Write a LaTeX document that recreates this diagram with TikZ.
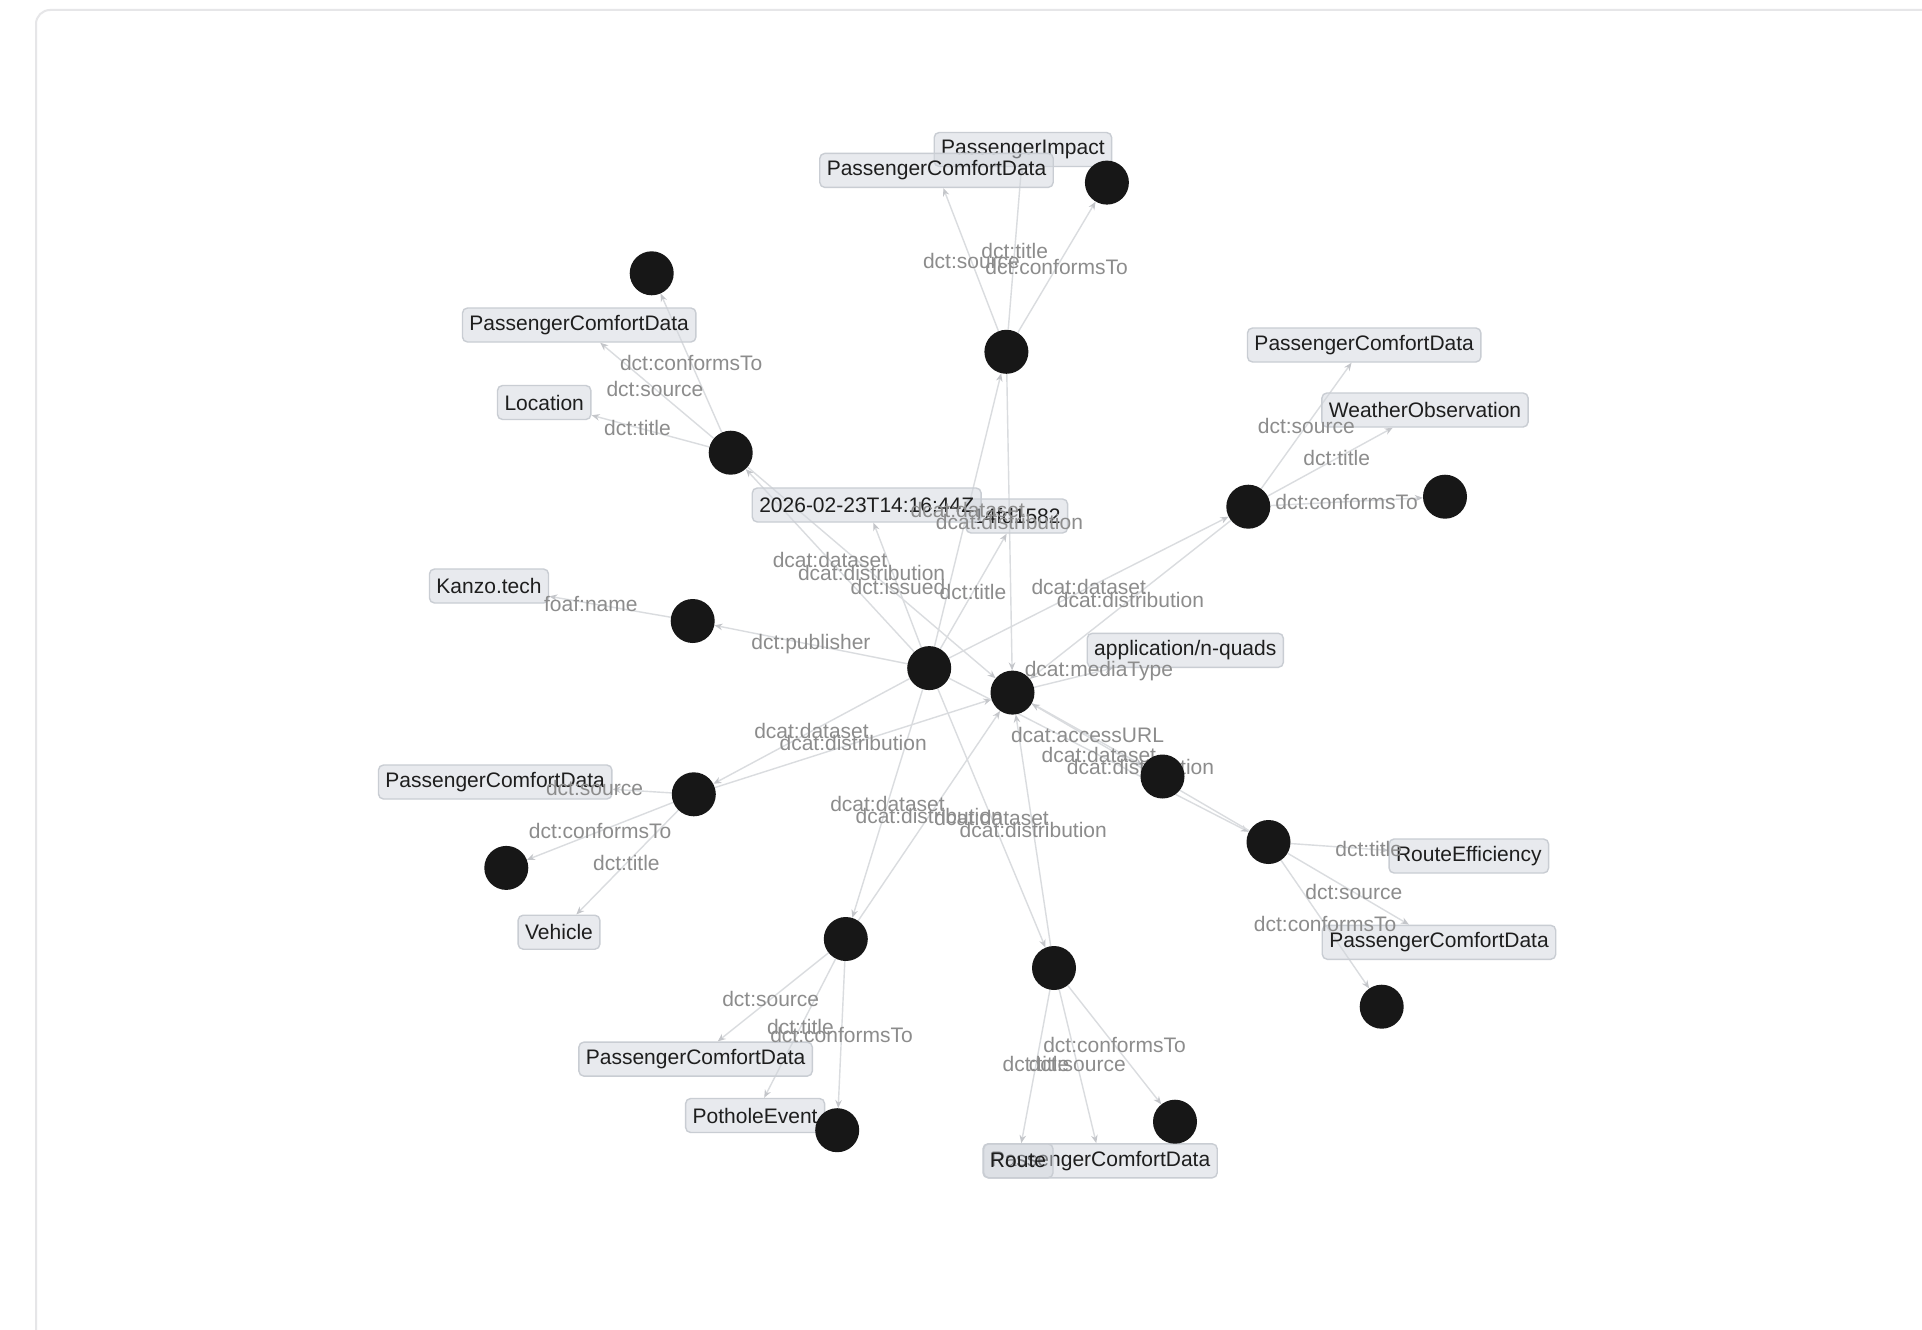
\documentclass[tikz,border=0pt]{standalone}
\usepackage{fontspec}
\setmainfont{Liberation Sans}
\usetikzlibrary{arrows.meta,calc}
\definecolor{edgecol}{HTML}{DADCDF}
\definecolor{tipcol}{HTML}{C4C6CA}
\definecolor{lblcol}{HTML}{8C8C8C}
\definecolor{boxfill}{HTML}{D3D7DE}
\definecolor{boxdraw}{HTML}{C9CDD3}
\definecolor{blobcol}{HTML}{171717}
\definecolor{txtcol}{HTML}{1E1E1E}
\definecolor{cardcol}{HTML}{E6E6E8}
\pgfdeclarelayer{bglayer}
\pgfdeclarelayer{edgelayer}
\pgfdeclarelayer{boxlayer}
\pgfdeclarelayer{labellayer}
\pgfsetlayers{bglayer,edgelayer,boxlayer,labellayer,main}
\tikzset{
  blob/.style={circle,fill=blobcol,draw=none,minimum size=44pt,inner sep=0pt},
  lit/.style={rectangle,rounded corners=5pt,fill=boxfill,fill opacity=0.5,text opacity=1,
    draw=boxdraw,draw opacity=1,line width=1.4pt,text=txtcol,
    font=\fontsize{21}{24}\selectfont,inner xsep=7pt,minimum height=34pt,inner ysep=0pt},
  edge/.style={draw=edgecol,line width=1.4pt,-{Stealth[length=8pt,width=6.5pt,color=tipcol]}},
  lbl/.style={text=lblcol,font=\fontsize{21}{24}\selectfont,inner sep=0pt}
}
\newcommand\relEdge[3]{%
  \begin{pgfonlayer}{edgelayer}\draw[edge] (#1) -- (#2);\end{pgfonlayer}%
  \begin{pgfonlayer}{labellayer}\path (#1.center) -- node[lbl]{#3} (#2.center);\end{pgfonlayer}}
\begin{document}
\begin{tikzpicture}[x=1pt,y=-1pt]
\useasboundingbox (0,0) rectangle (1922,1330);
\begin{pgfonlayer}{bglayer}
\fill[white] (0,0) rectangle (1922,1330);
\begin{scope}
\clip (0,0) rectangle (1922,1330);
\draw[cardcol,line width=2pt,rounded corners=14pt] (36,10) rectangle (1990,1400);
\end{scope}
\end{pgfonlayer}

% ---- literal boxes ----
\begin{pgfonlayer}{boxlayer}
\node[lit] (ctitle) at (1016.8,516) {14fd1582};
\node[lit] (date) at (866.7,505) {2026-02-23T14:16:44Z};
\node[lit] (kanzo) at (489,586) {Kanzo.tech};
\node[lit] (mtype) at (1185.3,650.3) {application/n-quads};
\node[lit] (impact) at (1022.9,149.5) {PassengerImpact};
\node[lit] (pcd1) at (936.5,170.4) {PassengerComfortData};
\node[lit] (pcd2) at (579.2,325) {PassengerComfortData};
\node[lit] (loc) at (544.2,402.5) {Location};
\node[lit] (pcd3) at (1364.2,345) {PassengerComfortData};
\node[lit] (weather) at (1425,410) {WeatherObservation};
\node[lit] (pcd4) at (495.2,782) {PassengerComfortData};
\node[lit] (vehicle) at (559,932.2) {Vehicle};
\node[lit] (pcd5) at (695.6,1059.1) {PassengerComfortData};
\node[lit] (pothole) at (755.1,1115.5) {PotholeEvent};
\node[lit] (pcd6) at (1100.5,1160.8) {PassengerComfortData};
\node[lit] (route) at (1018,1160.8) {Route};
\node[lit] (pcd7) at (1439,942.3) {PassengerComfortData};
\node[lit] (routeeff) at (1468.8,856) {RouteEfficiency};
\end{pgfonlayer}

% ---- resource nodes ----
\node[blob] (C) at (929.2,668.1) {};
\node[blob] (D) at (1012.5,692.6) {};
\node[blob] (P) at (692.7,621) {};
\node[blob] (A) at (1162.5,776.5) {};
\node[blob] (DS1) at (1006.4,351.8) {};
\node[blob] (K1) at (1106.9,182.6) {};
\node[blob] (DS2) at (730.7,452.7) {};
\node[blob] (K2) at (651.7,273.3) {};
\node[blob] (DS3) at (1248.3,506.7) {};
\node[blob] (K3) at (1445,496.7) {};
\node[blob] (DS4) at (693.8,794.3) {};
\node[blob] (K4) at (506.3,867.9) {};
\node[blob] (DS5) at (845.8,939) {};
\node[blob] (K5) at (837.2,1130.2) {};
\node[blob] (DS6) at (1054,968) {};
\node[blob] (K6) at (1175,1121.7) {};
\node[blob] (DS7) at (1268.5,842) {};
\node[blob] (K7) at (1381.7,1006.7) {};

% ---- catalog ----
\relEdge{C}{date}{dct:issued}
\relEdge{C}{ctitle}{dct:title}
\relEdge{C}{P}{dct:publisher}
\relEdge{P}{kanzo}{foaf:name}
\relEdge{D}{mtype}{dcat:mediaType}
\relEdge{D}{A}{dcat:accessURL}

% ---- datasets ----
\foreach \n in {1,...,7}{%
  \relEdge{C}{DS\n}{dcat:dataset}
  \relEdge{DS\n}{D}{dcat:distribution}
}

\relEdge{DS1}{impact}{dct:title}
\relEdge{DS1}{pcd1}{dct:source}
\relEdge{DS1}{K1}{dct:conformsTo}

\relEdge{DS2}{loc}{dct:title}
\relEdge{DS2}{pcd2}{dct:source}
\relEdge{DS2}{K2}{dct:conformsTo}

\relEdge{DS3}{weather}{dct:title}
\relEdge{DS3}{pcd3}{dct:source}
\relEdge{DS3}{K3}{dct:conformsTo}

\relEdge{DS4}{vehicle}{dct:title}
\relEdge{DS4}{pcd4}{dct:source}
\relEdge{DS4}{K4}{dct:conformsTo}

\relEdge{DS5}{pothole}{dct:title}
\relEdge{DS5}{pcd5}{dct:source}
\relEdge{DS5}{K5}{dct:conformsTo}

\relEdge{DS6}{route}{dct:title}
\relEdge{DS6}{pcd6}{dct:source}
\relEdge{DS6}{K6}{dct:conformsTo}

\relEdge{DS7}{routeeff}{dct:title}
\relEdge{DS7}{pcd7}{dct:source}
\relEdge{DS7}{K7}{dct:conformsTo}
\end{tikzpicture}
\end{document}
